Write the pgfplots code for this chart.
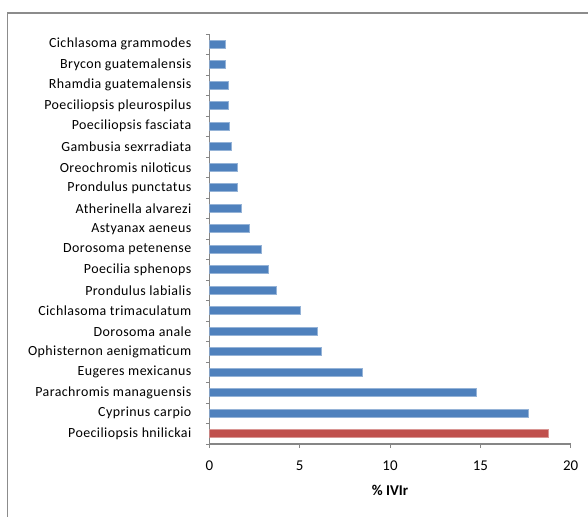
\documentclass[border=0pt]{standalone}
\usepackage{fontspec}
\setmainfont{Carlito}
\newfontfamily\labelfont[LetterSpace=3]{Carlito}
\usepackage{pgfplots}
\pgfplotsset{compat=1.18}
\definecolor{barblue}{HTML}{4F81BD}
\definecolor{barred}{HTML}{C0504D}
\definecolor{axgray}{HTML}{868686}
\definecolor{framegray}{HTML}{8C8C8C}
\begin{document}
\begin{tikzpicture}
\useasboundingbox (0,0) rectangle (588bp,-517bp);
\draw[framegray, line width=1.5bp] (620bp,-13bp) -- (7.5bp,-13bp) -- (7.5bp,-540bp);
\begin{axis}[
  at={(209.3bp,-34bp)}, anchor=north west,
  scale only axis, width=361.4bp, height=410bp,
  xmin=0, xmax=20, ymin=-0.5, ymax=19.5,
  xbar, bar width=8bp, bar shift=0pt,
  axis x line*=bottom, axis y line*=left,
  axis line style={axgray, line width=1.2bp},
  tick align=outside,
  major tick length=3.5bp, minor tick length=3.5bp,
  tick style={axgray, line width=1bp},
  xtick={0,5,10,15,20},
  ytick={0,...,19},
  every major y tick/.append style={draw=none},
  minor ytick={-0.5,0.5,...,19.5},
  every minor y tick/.append style={draw=axgray},
  yticklabels={Poeciliopsis hnilickai, Cyprinus carpio, Parachromis managuensis, Eugeres mexicanus, Ophisternon aenigmaticum, Dorosoma anale, Cichlasoma trimaculatum, Prondulus labialis, Poecilia sphenops, Dorosoma petenense, Astyanax aeneus, Atherinella alvarezi, Prondulus punctatus, Oreochromis niloticus, Gambusia sexrradiata, Poeciliopsis fasciata, Poeciliopsis pleurospilus, Rhamdia guatemalensis, Brycon guatemalensis, Cichlasoma grammodes},
  yticklabel style={font=\labelfont\fontsize{14}{16}\selectfont, xshift=-11bp},
  xticklabel style={font=\fontsize{15}{17}\selectfont, yshift=-10bp},
  /pgf/number format/assume math mode=true,
  xlabel={\textbf{\% IVIr}},
  xlabel style={font=\fontsize{15}{17}\selectfont, yshift=-8bp},
]
\addplot[fill=barblue, draw=barblue!60!white, line width=0.6bp] coordinates {
(17.67,1) (14.76,2) (8.49,3) (6.22,4) (5.98,5) (5.02,6) (3.73,7) (3.29,8) (2.86,9) (2.21,10)
(1.77,11) (1.57,12) (1.57,13) (1.24,14) (1.13,15) (1.03,16) (1.03,17) (0.91,18) (0.91,19)};
\addplot[fill=barred, draw=barred!60!white, line width=0.6bp] coordinates {(18.76,0)};
\end{axis}
\end{tikzpicture}
\end{document}
